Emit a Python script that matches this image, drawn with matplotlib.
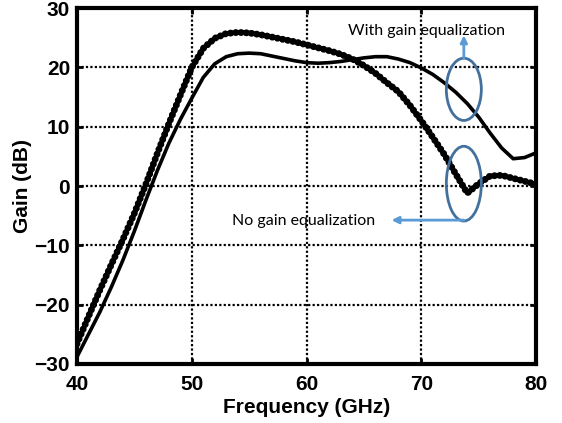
import matplotlib
matplotlib.use("Agg")
import matplotlib.pyplot as plt
from matplotlib.patches import Ellipse

# Frequency (GHz)
freq = [40, 41, 42, 43, 44, 45, 46, 47, 48, 49, 50, 51, 52, 53, 54, 55, 56, 57, 58, 59, 60,
        61, 62, 63, 64, 65, 66, 67, 68, 69, 70, 71, 72, 73, 74, 75, 76, 77, 78, 79, 80]

# Gain without equalization (beaded curve)
gain_no_eq = [-26.6, -22.0, -17.5, -13.2, -9.0, -4.6, 0.3, 5.5, 10.5, 15.3, 20.0,
              23.2, 24.9, 25.7, 25.9, 25.8, 25.5, 25.1, 24.7, 24.3, 23.8,
              23.3, 22.8, 22.2, 21.4, 20.3, 19.0, 17.4, 15.9, 13.6, 11.0,
              8.2, 5.3, 2.0, -1.2, 0.4, 1.7, 1.8, 1.3, 0.8, 0.3]

# Gain with equalization (solid curve)
gain_eq = [-28.8, -25.0, -21.2, -17.0, -12.5, -7.6, -2.4, 2.6, 7.2, 11.2, 14.8,
           18.3, 20.6, 21.8, 22.3, 22.4, 22.3, 21.9, 21.5, 21.1, 20.8,
           20.7, 20.8, 21.0, 21.3, 21.6, 21.8, 21.8, 21.4, 20.8, 19.9,
           18.8, 17.4, 15.8, 13.9, 11.6, 8.9, 6.4, 4.6, 4.8, 5.6]

x_ticks = [40, 50, 60, 70, 80]
y_ticks = [-30, -20, -10, 0, 10, 20, 30]
x_label = "Frequency (GHz)"
y_label = "Gain (dB)"
note_eq = "With gain equalization"
note_no_eq = "No gain equalization"

fig = plt.figure(figsize=(5.62, 4.23), dpi=100)
ax = fig.add_axes([0.137, 0.1395, 0.817, 0.8415])

ax.plot(freq, gain_eq, color="black", lw=2.6, solid_joinstyle="round", zorder=3)
ax.plot(freq, gain_no_eq, color="black", lw=3.4, solid_joinstyle="round", zorder=4)
ax.plot(freq, gain_no_eq, color="black", lw=5.0, linestyle=(0, (0.01, 0.75)),
        dash_capstyle="round", zorder=4)

ax.set_xlim(40, 80)
ax.set_ylim(-30, 30)
ax.set_xticks(x_ticks)
ax.set_yticks(y_ticks)
ax.set_xticklabels([str(t) for t in x_ticks])
ax.set_yticklabels([str(t).replace("-", "\u2212") for t in y_ticks])

ax.grid(True, color="black", linestyle=(0, (1.0, 1.0)), lw=1.6)
ax.set_axisbelow(True)
for s in ax.spines.values():
    s.set_linewidth(3)
ax.tick_params(direction="in", length=4, width=2, top=True, right=True,
               labelsize=15)
ax.tick_params(axis="x", pad=8)
ax.tick_params(axis="y", pad=5)
for lab in ax.get_xticklabels() + ax.get_yticklabels():
    lab.set_fontfamily("Liberation Sans")
    lab.set_fontweight("bold")

ax.set_xlabel(x_label, fontsize=15, fontweight="bold", family="Liberation Sans", labelpad=3)
ax.set_ylabel(y_label, fontsize=15, fontweight="bold", family="Liberation Sans", labelpad=2)

# Annotations
ecol = "#41719c"
acol = "#5b9bd5"
ax.add_patch(Ellipse((73.7, 16.3), 3.05, 10.5, fill=False, ec=ecol, lw=2, zorder=5))
ax.add_patch(Ellipse((73.7, 0.4), 3.05, 12.6, fill=False, ec=ecol, lw=2, zorder=5))
ax.annotate("", xy=(73.7, 25.4), xytext=(73.7, 21.55),
            arrowprops=dict(arrowstyle="-|>", color=acol, lw=2, mutation_scale=10,
                            shrinkA=0, shrinkB=0), zorder=5)
ax.annotate("", xy=(67.4, -5.75), xytext=(73.7, -5.75),
            arrowprops=dict(arrowstyle="-|>", color=acol, lw=2, mutation_scale=10,
                            shrinkA=0, shrinkB=0), zorder=5)
ax.text(63.6, 26.2, note_eq, fontsize=11.5, family="Lato", va="center", ha="left", zorder=6)
ax.text(53.5, -5.9, note_no_eq, fontsize=11.5, family="Lato", va="center", ha="left", zorder=6)

fig.savefig("out.png", dpi=100)
